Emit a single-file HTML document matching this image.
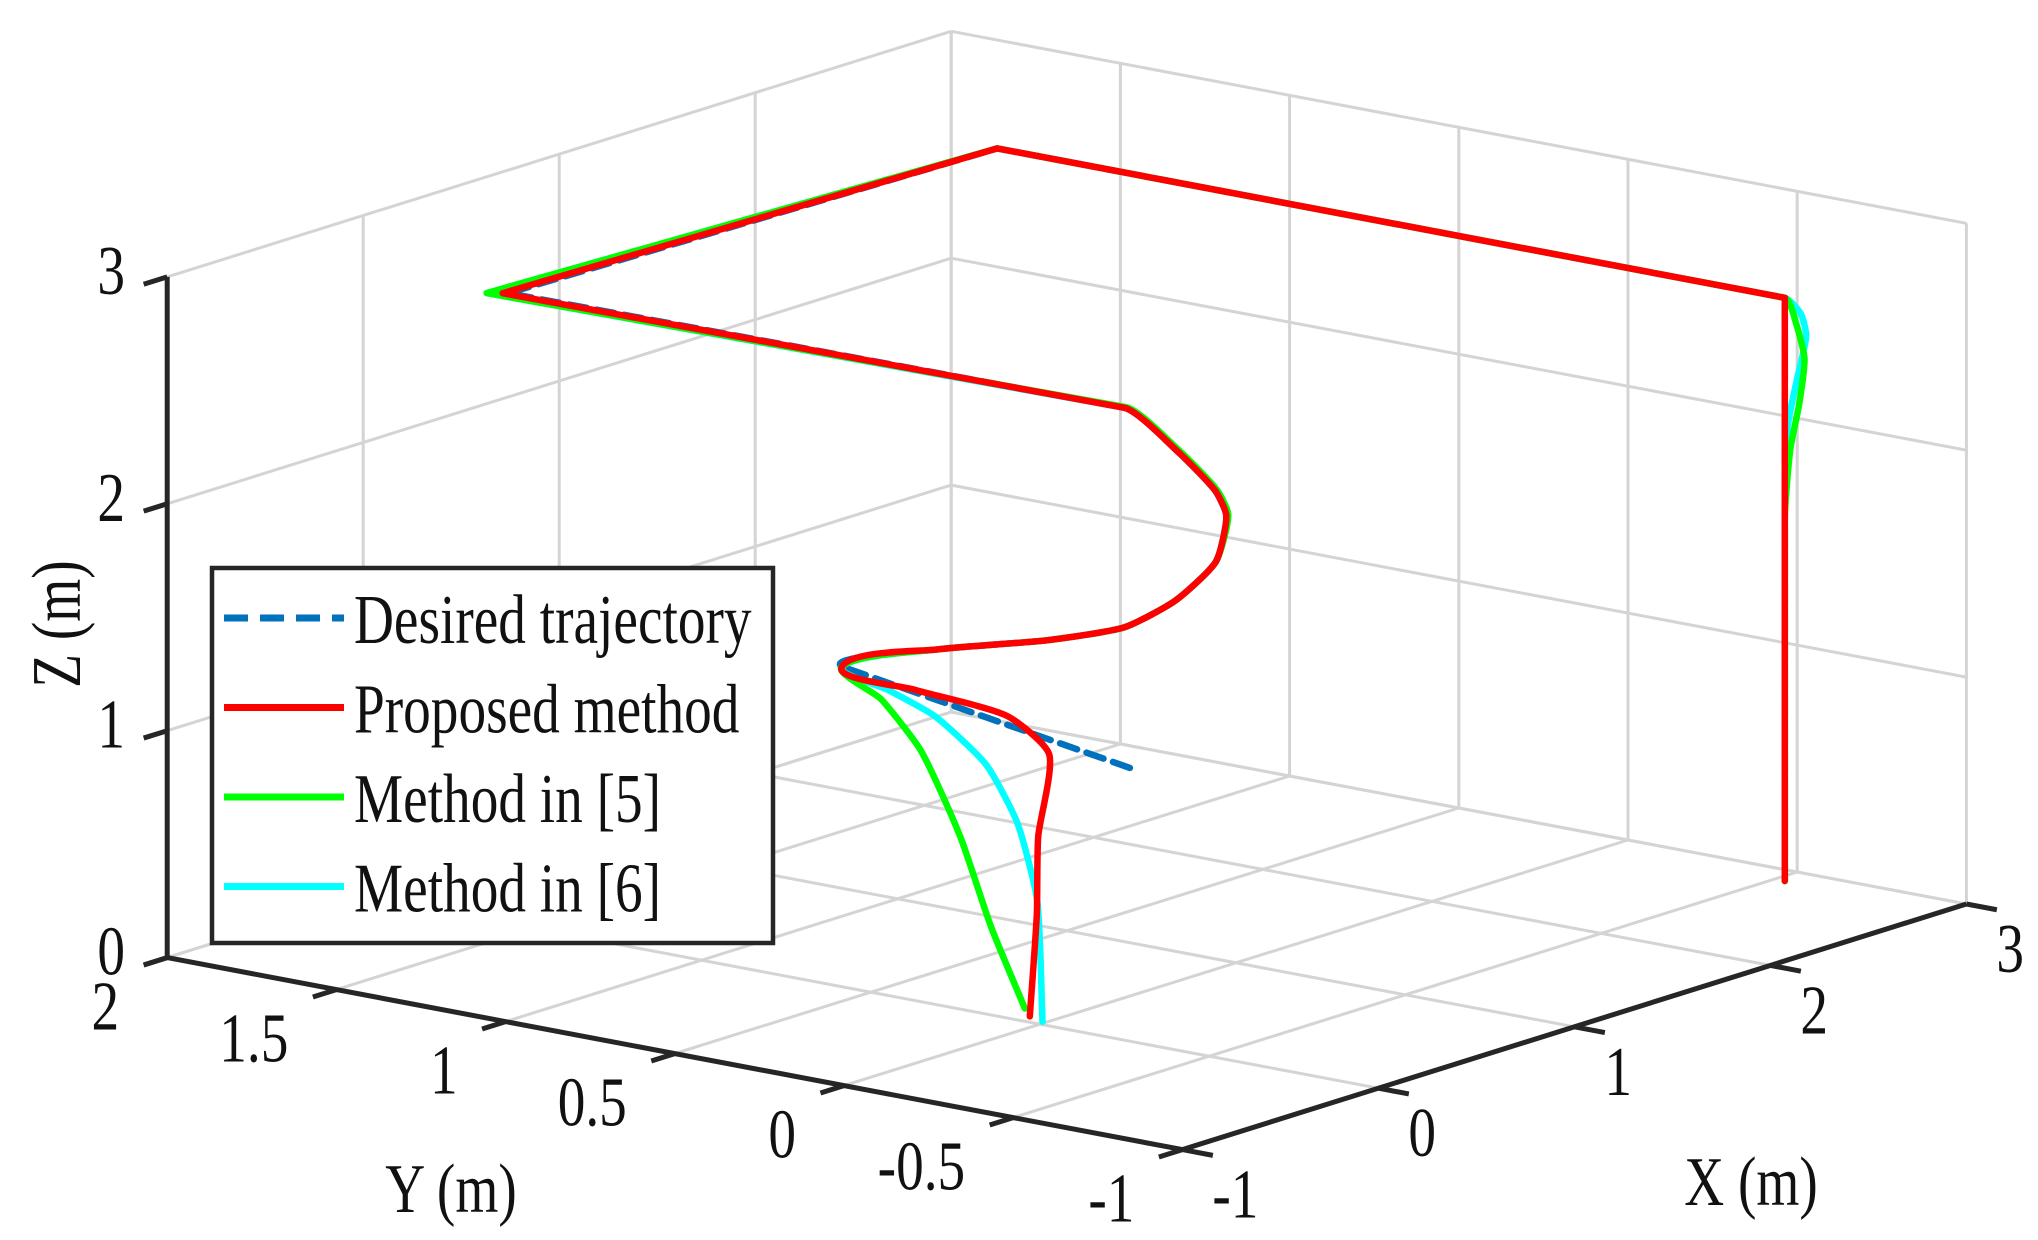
<!DOCTYPE html>
<html><head><meta charset="utf-8"><style>
html,body{margin:0;padding:0;background:#fff}
svg{display:block}
text{font-family:"Liberation Serif",serif;font-size:70px;fill:#111}
</style></head>
<body>
<svg id="chart" xmlns="http://www.w3.org/2000/svg" width="2038" height="1240" viewBox="0 0 2038 1240">
<g id="grid"></g>
<g id="axes"></g>
<g id="series"></g>
<g id="legend"></g>
</svg>
<script>
// ---- data ----
const xTicks = [-1, 0, 1, 2, 3];
const yTicks = [2, 1.5, 1, 0.5, 0, -0.5, -1];
const zTicks = [0, 1, 2, 3];
const xTickLabels = ["-1", "0", "1", "2", "3"];
const yTickLabels = ["2", "1.5", "1", "0.5", "0", "-0.5", "-1"];
const zTickLabels = ["0", "1", "2", "3"];
const desired = [[0.01,-0.26,1.2],[-0.32,0.40,1.55],[-0.19,0.19,1.65],[-0.12,-0.09,1.75],[-0.07,-0.29,1.85],[0.07,-0.36,1.95],[0.31,-0.34,2.05],[0.45,-0.29,2.2],[0.46,-0.25,2.3],[0.44,-0.15,2.45],[0.50,0.04,2.57],[0.48,1.85,2.57],[2.89,1.80,2.57],[2.885,-0.53,2.57],[2.885,-0.53,0]];
const proposed = [[0.06,0.065,0],[0.07,0.05,0.45],[0.06,0.04,0.8],[0.22,0.10,1.1],[0.19,0.21,1.25],[-0.07,0.33,1.4],[-0.32,0.40,1.55],[-0.19,0.19,1.65],[-0.12,-0.09,1.75],[-0.07,-0.29,1.85],[0.07,-0.36,1.95],[0.31,-0.34,2.05],[0.45,-0.29,2.2],[0.46,-0.25,2.3],[0.44,-0.15,2.45],[0.50,0.04,2.57],[0.47,1.86,2.57],[2.89,1.80,2.57],[2.885,-0.53,2.57],[2.885,-0.53,0]];
const method5 = [[0.13,0.12,0],[0.20,0.26,0.3],[0.37,0.45,0.6],[0.24,0.49,1.0],[0.00,0.47,1.3],[-0.32,0.40,1.55],[-0.19,0.19,1.65],[-0.12,-0.09,1.75],[-0.07,-0.29,1.85],[0.07,-0.36,1.95],[0.31,-0.34,2.05],[0.46,-0.29,2.2],[0.47,-0.25,2.3],[0.45,-0.15,2.45],[0.51,0.04,2.57],[0.44,1.89,2.57],[2.89,1.80,2.57],[2.885,-0.53,2.57],[2.91,-0.55,2.45],[2.925,-0.565,2.3],[2.915,-0.555,2.1],[2.895,-0.54,1.9],[2.885,-0.53,1.6],[2.885,-0.53,0]];
const method6 = [[0.03,0.01,0],[0.09,0.06,0.5],[0.04,0.09,0.85],[0.00,0.16,1.1],[-0.07,0.27,1.3],[-0.17,0.35,1.42],[-0.32,0.40,1.55],[-0.19,0.19,1.65],[-0.12,-0.09,1.75],[-0.07,-0.29,1.85],[0.07,-0.36,1.95],[0.31,-0.34,2.05],[0.45,-0.29,2.2],[0.46,-0.25,2.3],[0.44,-0.15,2.45],[0.50,0.04,2.57],[0.44,1.89,2.57],[2.89,1.80,2.57],[2.885,-0.53,2.57],[2.915,-0.56,2.5],[2.925,-0.57,2.4],[2.91,-0.55,2.2],[2.89,-0.535,2.0],[2.885,-0.53,1.7],[2.885,-0.53,0]];
const legendLabels = ["Desired trajectory", "Proposed method", "Method in [5]", "Method in [6]"];

// ---- projection ----
const O = [167.2, 957.6], EX = [196, -61.4], EY = [338.4, 64.0], EZ = [0, -226.9];
function P(x, y, z) {
  const a = x + 1, b = 2 - y;
  return [O[0] + a*EX[0] + b*EY[0] + z*EZ[0], O[1] + a*EX[1] + b*EY[1] + z*EZ[1]];
}
const NS = "http://www.w3.org/2000/svg";
function mk(tag, parent, attrs) {
  const e = document.createElementNS(NS, tag);
  for (const k in attrs) e.setAttribute(k, attrs[k]);
  parent.appendChild(e);
  return e;
}
function line(parent, p, q, color, w) {
  return mk("line", parent, {x1:p[0], y1:p[1], x2:q[0], y2:q[1], stroke:color, "stroke-width":w, "stroke-linecap":"butt"});
}
function label(parent, str, x, y, anchor, rot) {
  const g = mk("g", parent, {transform: "translate(" + x + "," + y + ")" + (rot ? " rotate(" + rot + ")" : "") + " scale(0.79,1)"});
  const t = mk("text", g, {x:0, y:0, "text-anchor":anchor});
  t.textContent = str;
  return t;
}

// ---- grid ----
const grid = document.getElementById("grid");
const gc = "#d4d4d4", gw = 3;
xTicks.forEach(x => {
  let l = line(grid, P(x, 2, 0), P(x, 2, 3), gc, gw);
  
  
  l = line(grid, P(x, 2, 0), P(x, -1, 0), gc, gw);
  
  
});
yTicks.forEach(y => {
  let l = line(grid, P(3, y, 0), P(3, y, 3), gc, gw);
  
  
  l = line(grid, P(-1, y, 0), P(3, y, 0), gc, gw);
  
  
});
zTicks.forEach(z => {
  let l = line(grid, P(-1, 2, z), P(3, 2, z), gc, gw);
  
  
  l = line(grid, P(3, 2, z), P(3, -1, z), gc, gw);
  
  
});

// ---- axes ----
const axes = document.getElementById("axes");
const ac = "#262626", aw = 5;
let al = line(axes, P(-1, 2, 0), P(-1, 2, 3), ac, aw);


al = line(axes, P(-1, 2, 0), P(-1, -1, 0), ac, aw);


al = line(axes, P(-1, -1, 0), P(3, -1, 0), ac, aw);



zTicks.forEach((z, i) => {
  const p = P(-1, 2, z), q = P(-1.12, 2, z);
  const t = line(axes, p, q, ac, aw);
  
  
  const lb = label(axes, zTickLabels[i], p[0] - 56, p[1] + 17, "middle");
  
  
});
yTicks.forEach((y, i) => {
  const p = P(-1, y, 0), q = P(-1.12, y, 0);
  const t = line(axes, p, q, ac, aw);
  
  
  const lb = label(axes, yTickLabels[i], p[0] - 48, p[1] + 72, "end");
  
  
});
xTicks.forEach((x, i) => {
  const p = P(x, -1, 0), q = P(x, -1.09, 0);
  const t = line(axes, p, q, ac, aw);
  
  
  const lb = label(axes, xTickLabels[i], p[0] + 30, p[1] + 68, "start");
  
  
});
let at = label(axes, "Z (m)", 80, 624, "middle", -90);


at = label(axes, "Y (m)", 451, 1212, "middle");


at = label(axes, "X (m)", 1751, 1205, "middle");



// ---- series ----
const seriesG = document.getElementById("series");
function path(pts) {
  const q = pts.map(p => P(p[0], p[1], p[2]));
  let d = "M" + q[0][0].toFixed(1) + "," + q[0][1].toFixed(1);
  for (let i = 0; i < q.length - 1; i++) {
    const p0 = q[Math.max(0, i - 1)], p1 = q[i], p2 = q[i + 1], p3 = q[Math.min(q.length - 1, i + 2)];
    const len = Math.hypot(p2[0] - p1[0], p2[1] - p1[1]);
    const l0 = Math.hypot(p2[0] - p0[0], p2[1] - p0[1]) || 1, l1 = Math.hypot(p3[0] - p1[0], p3[1] - p1[1]) || 1;
    const k = 0.33 * len;
    const c1 = [p1[0] + (p2[0] - p0[0]) / l0 * k * 0.6, p1[1] + (p2[1] - p0[1]) / l0 * k * 0.6];
    const c2 = [p2[0] - (p3[0] - p1[0]) / l1 * k * 0.6, p2[1] - (p3[1] - p1[1]) / l1 * k * 0.6];
    const cap = len > 150; // long straight segments: keep straight
    if (cap) d += " L" + p2[0].toFixed(1) + "," + p2[1].toFixed(1);
    else d += " C" + c1.map(v => v.toFixed(1)).join(",") + " " + c2.map(v => v.toFixed(1)).join(",") + " " + p2[0].toFixed(1) + "," + p2[1].toFixed(1);
  }
  return d;
}
const colors = ["#0072BD", "#FF0000", "#00FF00", "#00FFFF"];
const seriesData = [desired, proposed, method5, method6];
[0, 3, 2, 1].forEach(i => {
  const attrs = {d: path(seriesData[i]), fill: "none", stroke: colors[i], "stroke-width": 6.5, "stroke-linejoin": "round", "stroke-linecap": "round"};
  if (i === 0) attrs["stroke-dasharray"] = "18 10";
  const e = mk("path", seriesG, attrs);
  
  
});

// ---- legend ----
const lg = document.getElementById("legend");
const box = mk("rect", lg, {x: 212, y: 568, width: 561, height: 375, fill: "#fff", stroke: "#262626", "stroke-width": 4.5});


legendLabels.forEach((s, i) => {
  const y = 618 + i * 89.5;
  const g = mk("g", lg, {});
  
  
  const sw = mk("line", g, {x1: 224, y1: y, x2: 344, y2: y, stroke: colors[i], "stroke-width": 7});
  if (i === 0) sw.setAttribute("stroke-dasharray", "24 12");
  
  
  const t = label(g, s, 354, y + 25, "start");
  
  
});
</script>
</body></html>
